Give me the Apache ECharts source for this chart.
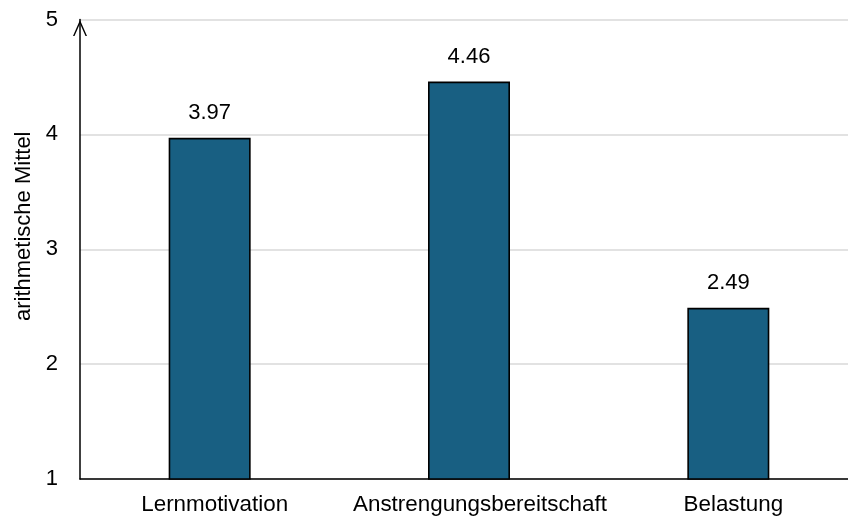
<!DOCTYPE html>
<html>
<head>
<meta charset="utf-8">
<script src="https://cdn.jsdelivr.net/npm/echarts@6/dist/echarts.min.js"></script>
<style>
  html, body { margin: 0; padding: 0; background: #fff; }
  #chart { width: 848px; height: 521px; }
</style>
</head>
<body>
<div id="chart"></div>
<script>
// Mean scale scores per construct
const categories = ['Lernmotivation', 'Anstrengungsbereitschaft', 'Belastung'];
const means = [3.97, 4.46, 2.49];
const yTicks = [1, 2, 3, 4, 5];

const FONT = '"Liberation Sans", Arial, sans-serif';

// the long middle label sits slightly right of its bar
const categoryData = categories.map((c, i) =>
  i === 1 ? { value: c, textStyle: { padding: [0, 0, 0, 22] } } : c);

const chart = echarts.init(document.getElementById('chart'));
chart.setOption({
  animation: false,
  grid: { left: 80, width: 778, top: 19.5, bottom: 42, containLabel: false, outerBoundsMode: 'none' },
  xAxis: {
    type: 'category',
    data: categoryData,
    axisLine: { lineStyle: { color: '#000', width: 1.5 } },
    axisTick: { show: false },
    axisLabel: { color: '#000', fontSize: 22.4, fontFamily: FONT, margin: 15, interval: 0, padding: [0, 0, 0, 10] }
  },
  yAxis: {
    type: 'value',
    min: yTicks[0],
    max: yTicks[yTicks.length - 1],
    interval: 1,
    name: 'arithmetische Mittel',
    nameLocation: 'middle',
    nameGap: 43,
    nameTextStyle: { color: '#000', fontSize: 22, fontFamily: FONT, padding: [0, 0, 0, 46] },
    axisLine: {
      show: true,
      lineStyle: { color: '#000', width: 1.5 },
      symbol: ['none', 'path://M0,16 L7,0 L14,16 L12.5,16 L7,3.4 L1.5,16 Z'],
      symbolSize: [14, 17],
      symbolOffset: [0, -8.5]
    },
    axisTick: { show: false },
    axisLabel: { color: '#000', fontSize: 22, fontFamily: FONT, margin: 22 },
    splitLine: { lineStyle: { color: '#d9d9d9', width: 1.5 } }
  },
  series: [{
    type: 'bar',
    data: means,
    barWidth: 82,
    itemStyle: { color: '#185f82', borderColor: '#000', borderWidth: 1.6 },
    label: {
      show: true,
      position: 'top',
      distance: 14,
      color: '#000',
      fontSize: 22,
      fontFamily: FONT,
      formatter: p => p.value.toFixed(2)
    }
  }]
});
</script>
</body>
</html>
